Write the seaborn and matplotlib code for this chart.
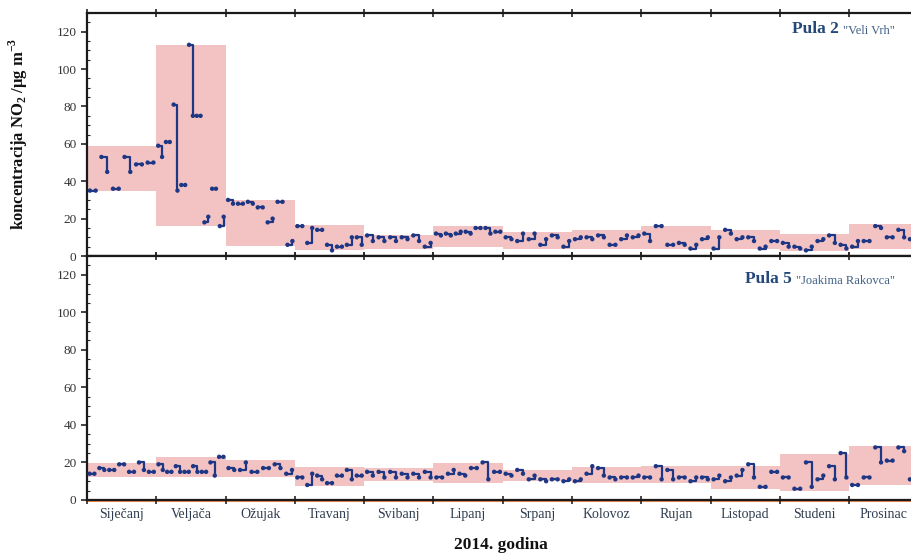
import numpy as np
import pandas as pd
import matplotlib
matplotlib.use('Agg')
import matplotlib.pyplot as plt
import seaborn as sns
from matplotlib.ticker import MultipleLocator, FixedLocator

months = ['Siječanj', 'Veljača', 'Ožujak', 'Travanj', 'Svibanj', 'Lipanj',
          'Srpanj', 'Kolovoz', 'Rujan', 'Listopad', 'Studeni', 'Prosinac']

# Pula 2 "Veli Vrh" - daily NO2 values per month
pula2_daily = [
    [35, 35, 53, 45, 36, 36, 53, 45, 49, 49, 50, 50],
    [59, 53, 61, 61, 81, 35, 38, 38, 113, 75, 75, 75, 18, 21, 36, 36, 16, 21],
    [30, 28, 28, 28, 29, 28, 26, 26, 18, 20, 29, 29, 6, 8],
    [16, 16, 7, 15, 14, 14, 6, 3, 5, 5, 6, 10, 10, 6],
    [11, 8, 10, 8, 10, 8, 10, 9, 11, 8, 5, 7],
    [12, 11, 12, 11, 12, 13, 13, 12, 15, 15, 15, 12, 13, 13],
    [10, 9, 8, 12, 9, 12, 6, 9, 11, 10, 5, 8],
    [9, 10, 10, 9, 11, 10, 6, 6, 9, 11, 10, 11],
    [12, 8, 16, 16, 6, 6, 7, 6, 4, 6, 9, 10],
    [4, 10, 14, 12, 9, 10, 10, 8, 4, 5, 8, 8],
    [7, 5, 5, 4, 3, 5, 8, 9, 11, 7, 6, 4],
    [5, 8, 8, 8, 16, 15, 10, 10, 14, 10, 9, 9],
]
pula2_min = [35, 16, 5.5, 3, 4, 5, 4, 4, 4, 3.5, 2.5, 4]
pula2_max = [59, 113, 30, 16.5, 11.5, 16, 13, 14, 16, 14, 12, 17]

# Pula 5 "Joakima Rakovca"
pula5_daily = [
    [14, 14, 17, 16, 16, 16, 19, 19, 15, 15, 20, 16, 15, 15],
    [19, 16, 15, 15, 18, 15, 15, 15, 18, 15, 15, 15, 20, 13, 23, 23],
    [17, 16, 16, 20, 15, 15, 17, 17, 19, 17, 14, 16],
    [12, 12, 8, 14, 13, 11, 9, 9, 13, 13, 16, 11, 13, 13],
    [15, 13, 15, 12, 15, 12, 14, 12, 14, 12, 15, 12],
    [12, 12, 14, 16, 14, 13, 17, 17, 20, 11, 15, 15],
    [14, 13, 16, 14, 11, 13, 11, 10, 11, 11, 10, 11],
    [10, 11, 14, 18, 17, 13, 12, 11, 12, 12, 12, 13],
    [12, 12, 18, 11, 16, 11, 12, 12, 10, 12, 12, 11],
    [11, 13, 10, 12, 13, 16, 19, 12, 7, 7, 15, 15],
    [12, 12, 6, 6, 20, 7, 11, 13, 18, 11, 25, 12],
    [8, 8, 12, 12, 28, 20, 21, 21, 28, 26, 11, 11],
]
pula5_min = [12, 12, 12, 7.5, 10, 9, 10, 9, 9, 6, 5, 8]
pula5_max = [19.5, 23, 21.5, 17.5, 17, 19.5, 16, 17.5, 18, 18, 24.5, 28.5]


def to_frame(daily):
    rows = []
    for m, vals in enumerate(daily):
        n = len(vals)
        for i, v in enumerate(vals):
            rows.append({'x': m + (i + 0.5) / n, 'y': v, 'seg': f'{m}-{i // 2}'})
    return pd.DataFrame(rows)


sns.set_style('ticks')
plt.rcParams['font.family'] = ['Liberation Serif', 'DejaVu Serif']
plt.rcParams['mathtext.fontset'] = 'custom'
plt.rcParams['mathtext.rm'] = 'Liberation Serif:bold'
plt.rcParams['mathtext.bf'] = 'Liberation Serif:bold'

pink = '#f3c3c3'
navy = '#1d3784'
tick_col = '#333333'
title_col = '#24487a'

fig = plt.figure(figsize=(9.11, 5.54), dpi=100)
ax1 = fig.add_axes([0.0955, 0.5379, 0.9075, 0.4386])
ax2 = fig.add_axes([0.0955, 0.0975, 0.9075, 0.4404])

panels = [
    (ax1, pula2_daily, pula2_min, pula2_max, 'Pula 2', '"Veli Vrh"', 0.9),
    (ax2, pula5_daily, pula5_min, pula5_max, 'Pula 5', '"Joakima Rakovca"', 0.875),
]

for ax, daily, mn, mx, name, street, ty in panels:
    centers = np.arange(12) + 0.5
    ax.bar(centers, np.array(mx) - np.array(mn), bottom=mn, width=1.0,
           color=pink, edgecolor='none', zorder=1)
    df = to_frame(daily)
    sns.lineplot(data=df, x='x', y='y', units='seg', estimator=None, ax=ax,
                 color=navy, lw=1.6, drawstyle='steps-post', legend=False, zorder=3)
    sns.scatterplot(data=df, x='x', y='y', ax=ax, color=navy, marker='o', s=10,
                    edgecolor='none', legend=False, zorder=4)
    ax.axhline(0, color='#f08a4b', lw=2.2, zorder=0, clip_on=False)

    ax.set_xlim(0, 11.93)
    ax.set_ylim(0, 130)
    ax.set_xlabel('')
    ax.set_ylabel('')
    ax.yaxis.set_major_locator(MultipleLocator(20))
    ax.yaxis.set_minor_locator(MultipleLocator(5))
    ax.set_yticks(np.arange(0, 121, 20))
    ax.xaxis.set_major_locator(FixedLocator(np.arange(0, 13)))
    ax.xaxis.set_minor_locator(FixedLocator(centers))
    ax.set_xticklabels([])
    ax.tick_params(axis='y', which='major', direction='out', length=4, width=1.2,
                   labelsize=9.5, labelcolor=tick_col, right=True)
    ax.tick_params(axis='y', which='minor', direction='in', length=2, width=0.8, right=False)
    ax.tick_params(axis='x', which='major', direction='inout', length=6, width=1.2,
                   top=True)
    ax.tick_params(axis='x', which='minor', length=0)
    for s in ax.spines.values():
        s.set_linewidth(1.6)
        s.set_color('#1a1a1a')

    t2 = ax.text(0.977, ty, street, transform=ax.transAxes, ha='right', va='bottom',
                 fontsize=9, color='#3f5f86')
    ax.annotate(name + ' ', xy=(0, 0), xycoords=t2, ha='right', va='bottom',
                fontsize=12.5, fontweight='bold', color=title_col)

ax2.set_xticks(np.arange(12) + 0.5, minor=True)
ax2.set_xticklabels(months, minor=True, fontsize=10, color='#2f3d4f')
ax2.tick_params(axis='x', which='minor', length=0, pad=6)

fig.text(0.02, 0.758, r'koncentracija NO$_2$ /µg m$^{-3}$', rotation=90,
         ha='center', va='center', fontsize=12, fontweight='bold', color='#111111')
fig.text(0.55, 0.016, '2014. godina', ha='center', va='center',
         fontsize=12.5, fontweight='bold', color='#111111')

fig.savefig('out.png', dpi=100)
